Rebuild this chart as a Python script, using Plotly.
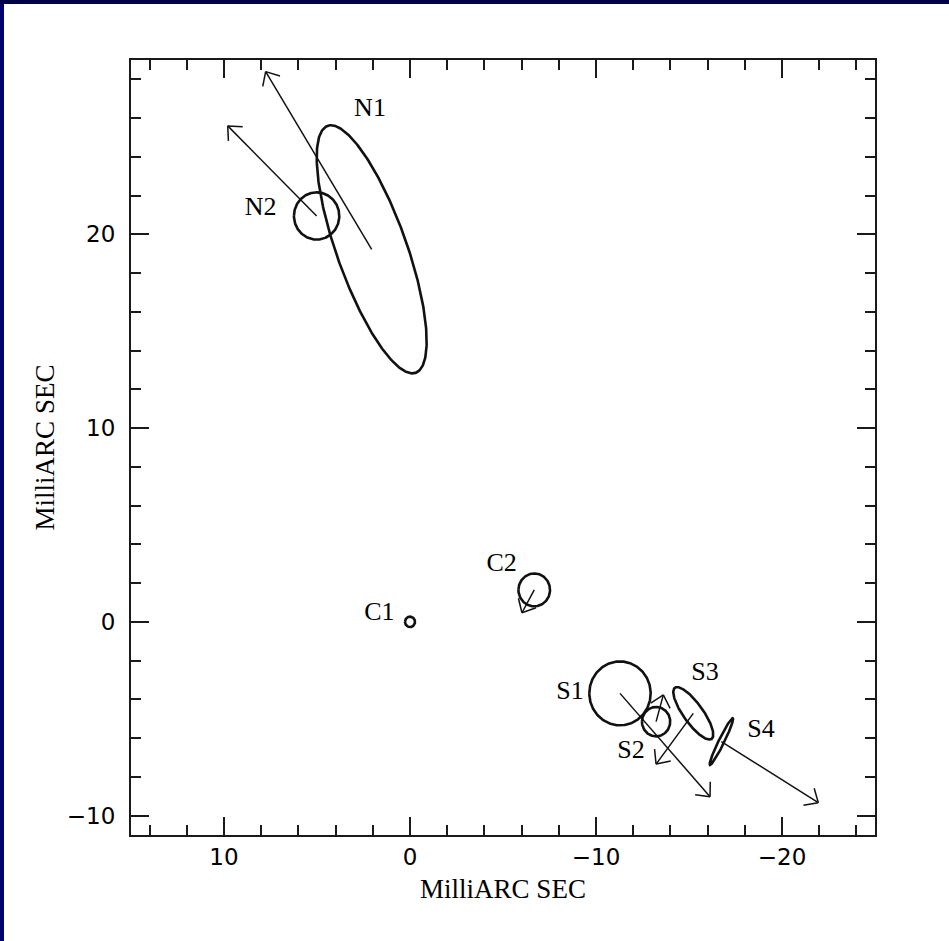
import numpy as np
import plotly.graph_objects as go

# ---------------- data (milliarcsec) ----------------
comp_names = ["C1", "C2", "N1", "N2", "S1", "S2", "S3", "S4"]
comp_x = [0.0, -6.68, 2.06, 5.02, -11.29, -13.23, -15.23, -16.74]
comp_y = [0.0, 1.65, 19.23, 20.95, -3.69, -5.15, -4.72, -6.18]
comp_major = [0.27, 0.85, 6.8, 1.22, 1.65, 0.76, 1.65, 1.35]   # semi-major axis
comp_minor = [0.27, 0.85, 1.87, 1.22, 1.65, 0.76, 0.52, 0.15]  # semi-minor axis
comp_pa = [0.0, 0.0, 20.5, 0.0, 0.0, 0.0, 37.0, -27.0]         # deg, N through E

# motion vectors: component -> arrow tip
arrow_comp = ["C2", "N1", "N2", "S1", "S2", "S3", "S4"]
arrow_tip_x = [-6.02, 7.76, 9.8, -16.13, -13.62, -13.23, -21.95]
arrow_tip_y = [0.47, 28.4, 25.6, -9.02, -3.77, -7.34, -9.33]

# labels
label_text = ["N1", "N2", "C1", "C2", "S1", "S2", "S3", "S4"]
label_x = [2.15, 8.03, 1.65, -4.93, -8.6, -11.88, -15.86, -18.87]
label_y = [26.42, 21.35, 0.41, 2.94, -3.65, -6.7, -2.65, -5.61]

x_range = [15, -25]
y_range = [-11, 29]
x_ticks = [10, 0, -10, -20]
y_ticks = [-10, 0, 10, 20]
axis_title = "MilliARC SEC"

# ---------------- layout geometry ----------------
FIG_W, FIG_H = 949, 941
M_L, M_R, M_T, M_B = 131, 74, 60, 106
plot_w = FIG_W - M_L - M_R
plot_h = FIG_H - M_T - M_B
kx = plot_w / abs(x_range[1] - x_range[0])
ky = plot_h / abs(y_range[1] - y_range[0])

INK = "#111111"
fig = go.Figure()

# ellipses / circles
t = np.linspace(0, 2 * np.pi, 361)
for name, cx, cy, a, b, pa in zip(comp_names, comp_x, comp_y, comp_major, comp_minor, comp_pa):
    p = np.deg2rad(pa)
    ex = cx + a * np.sin(t) * np.sin(p) + b * np.cos(t) * np.cos(p)
    ey = cy + a * np.sin(t) * np.cos(p) - b * np.cos(t) * np.sin(p)
    fig.add_trace(go.Scatter(x=ex, y=ey, mode="lines",
                             line=dict(color=INK, width=2.6),
                             hoverinfo="skip", showlegend=False))

# arrows with open V heads (head size in screen pixels)
HEAD_LEN = 15.0
HEAD_ANG = np.deg2rad(42)
for name, tx, ty in zip(arrow_comp, arrow_tip_x, arrow_tip_y):
    i = comp_names.index(name)
    sx, sy = comp_x[i], comp_y[i]
    # vector tip->start in pixel space
    dxp = (sx - tx) * (-kx)
    dyp = (sy - ty) * (-ky)
    n = np.hypot(dxp, dyp)
    ux, uy = dxp / n, dyp / n
    xs = [sx, tx, None]
    ys = [sy, ty, None]
    for sgn in (1, -1):
        c, s = np.cos(sgn * HEAD_ANG), np.sin(sgn * HEAD_ANG)
        rx = (ux * c - uy * s) * HEAD_LEN
        ry = (ux * s + uy * c) * HEAD_LEN
        xs += [tx, tx + rx / (-kx), None]
        ys += [ty, ty + ry / (-ky), None]
    fig.add_trace(go.Scatter(x=xs, y=ys, mode="lines",
                             line=dict(color=INK, width=1.5),
                             hoverinfo="skip", showlegend=False))

# labels
fig.add_trace(go.Scatter(x=label_x, y=label_y, mode="text", text=label_text,
                         textfont=dict(family="Liberation Serif", size=26, color="#000000"),
                         hoverinfo="skip", showlegend=False))

axis_common = dict(
    showgrid=False, zeroline=False,
    showline=True, linecolor="#1a1a1a", linewidth=2.2, mirror="ticks",
    ticks="inside", ticklen=18, tickwidth=2, tickcolor="#1a1a1a",
    tickfont=dict(family="DejaVu Sans", size=23, color="#000000"),
    minor=dict(ticks="inside", ticklen=10, tickwidth=2, tickcolor="#1a1a1a", dtick=2, showgrid=False),
)

fig.update_xaxes(range=x_range, tickmode="array", tickvals=x_ticks,
                 title=dict(text=axis_title, font=dict(family="Liberation Serif", size=27, color="#000000"), standoff=10),
                 **axis_common)
fig.update_yaxes(range=y_range, tickmode="array", tickvals=y_ticks,
                 ticklabelstandoff=9,
                 title=dict(text=axis_title, font=dict(family="Liberation Serif", size=27, color="#000000"), standoff=4),
                 **axis_common)

# dark frame at top and left edges of the page
fx0 = -M_L / plot_w
fy1 = 1 + M_T / plot_h
fig.add_shape(type="rect", xref="paper", yref="paper",
              x0=fx0, x1=fx0 + 4 / plot_w, y0=-M_B / plot_h, y1=fy1,
              fillcolor="#00006e", line=dict(width=0), layer="above")
fig.add_shape(type="rect", xref="paper", yref="paper",
              x0=fx0, x1=1 + M_R / plot_w, y0=fy1 - 4 / plot_h, y1=fy1,
              fillcolor="#000046", line=dict(width=0), layer="above")

fig.update_layout(
    width=FIG_W, height=FIG_H,
    margin=dict(l=M_L, r=M_R, t=M_T, b=M_B, autoexpand=False),
    paper_bgcolor="white", plot_bgcolor="white",
    showlegend=False,
)

fig.write_html("out.html")
